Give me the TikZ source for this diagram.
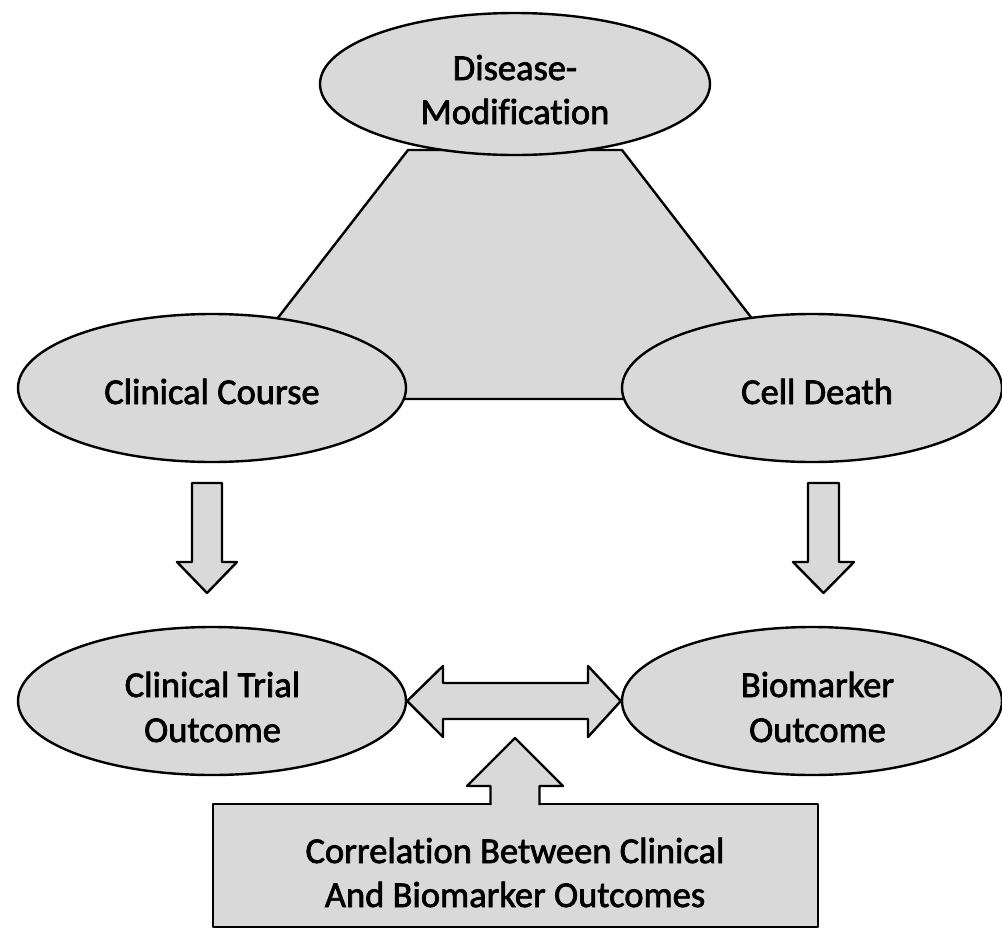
\documentclass[tikz,border=0pt]{standalone}
\usepackage{fontspec}
\setmainfont{Carlito}[Ligatures=NoCommon, RawFeature={embolden=2}]
\usetikzlibrary{shapes.geometric}
\definecolor{boxgray}{RGB}{217,217,217}
\tikzset{
  shp/.style={draw=black, fill=boxgray, line width=2.4pt, line join=round},
  oval/.style={shp, ellipse, inner sep=0pt},
  txt/.style={anchor=base, inner sep=0pt, font=\fontsize{36.5}{45}\selectfont},
}
\begin{document}
\begin{tikzpicture}[x=1pt, y=-1pt]
\useasboundingbox (0,0) rectangle (1002,930);
% trapezoid behind the ovals
\draw[shp] (408,150) -- (622,150) -- (814,399) -- (215,399) -- cycle;
% ovals
\node[oval, minimum width=390, minimum height=142] (dm) at (515,84) {};
\node[oval, minimum width=388, minimum height=148] (cc) at (212,388) {};
\node[oval, minimum width=380, minimum height=148] (cd) at (812,388) {};
\node[oval, minimum width=388, minimum height=148] (ct) at (212,701) {};
\node[oval, minimum width=380, minimum height=148] (bo) at (812,701) {};
% oval texts
\node[txt] (dm1) at (515,80) {Disease-};
\node[txt] (dm2) at (515,124) {Modification};
\node[txt] (cc1) at (212,404) {Clinical Course};
\node[txt] (cd1) at (817,404) {Cell Death};
\node[txt] (ct1) at (212.5,697) {Clinical Trial};
\node[txt] (ct2) at (212.5,742) {Outcome};
\node[txt] (bo1) at (817.5,697) {Biomarker};
\node[txt] (bo2) at (817.5,742) {Outcome};
% down arrows
\draw[shp] (192,483) -- (222,483) -- (222,562) -- (237,562) -- (207,593) -- (177,562) -- (192,562) -- cycle;
\draw[shp] (808,483) -- (839,483) -- (839,562) -- (854,562) -- (823.5,593) -- (793,562) -- (808,562) -- cycle;
% double arrow
\draw[shp] (ct.east) -- (443,666) -- (443,683) -- (588,683) -- (588,666) -- (bo.west) -- (588,737) -- (588,719) -- (443,719) -- (443,737) -- cycle;
% bottom box
\node[shp, minimum width=605, minimum height=123, inner sep=0pt] (corr) at (515.5,865.5) {};
\node[txt] (corr1) at (515,863) {Correlation Between Clinical};
\node[txt] (corr2) at (515,907) {And Biomarker Outcomes};
% up arrow
\draw[shp] (490.5,805) -- (490.5,786) -- (467,786) -- (515,738) -- (563,786) -- (539.5,786) -- (539.5,805);
\fill[boxgray] (491.7,802) rectangle (538.3,806.5);
\end{tikzpicture}
\end{document}
